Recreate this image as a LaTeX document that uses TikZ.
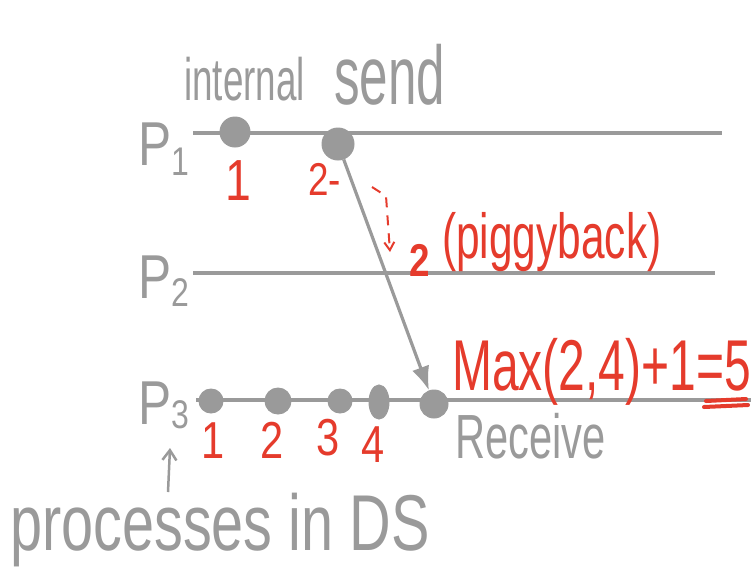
\documentclass[tikz,border=0pt]{standalone}
\usepackage{fontspec}
\setmainfont{Liberation Sans}
\newfontfamily\hand{Liberation Sans}[FakeStretch=0.8]
\usetikzlibrary{arrows.meta,shapes.geometric}
\definecolor{pgray}{HTML}{9A9A9A}
\definecolor{pred}{HTML}{E53B2C}
\newcommand{\fs}[1]{\hand\fontsize{#1}{#1}\selectfont}
\newcommand{\tallx}[2]{\scalebox{1}[#1]{#2}}
\begin{document}
\begin{tikzpicture}[x=1pt,y=-1pt,
  tl/.style={draw=pgray,line width=3.2pt},
  ev/.style={circle,fill=pgray,draw=pgray,line width=1pt,inner sep=0pt,minimum size=26pt},
  gtxt/.style={text=pgray,inner sep=0pt,anchor=base west},
  rtxt/.style={text=pred,inner sep=0pt,anchor=base},
]
\useasboundingbox (0,0) rectangle (751,571);
% process timelines
\coordinate (p1s) at (193,133); \coordinate (p1e) at (722,133);
\coordinate (p2s) at (193,273); \coordinate (p2e) at (715,273);
\coordinate (p3s) at (196,400); \coordinate (p3e) at (751,400);
\draw[tl] (p1s) -- (p1e);
\draw[tl] (p2s) -- (p2e);
\draw[tl] (p3s) -- (p3e);
% process labels
\node[gtxt,font=\fs{62}] (lp1) at (138,165) {P\raisebox{-10pt}{\fs{40}1}};
\node[gtxt,font=\fs{62}] (lp2) at (138,298) {P\raisebox{-8pt}{\fs{40}2}};
\node[gtxt,font=\fs{62}] (lp3) at (138,424) {P\raisebox{-4pt}{\fs{40}3}};
% events
\node[ev,minimum size=30pt] (e11) at (235,132) {};
\node[ev,minimum size=32pt] (e12) at (338,144) {};
\node[ev,minimum size=24pt] (e31) at (211,401) {};
\node[ev,minimum size=26pt] (e32) at (278,401) {};
\node[ev,minimum size=24pt] (e33) at (340,401) {};
\node[ev,ellipse,minimum width=20pt,minimum height=34pt] (e34) at (379,402) {};
\node[ev,minimum size=28pt] (e35) at (434,404) {};
% message
\draw[tl,-{Latex[length=24pt,width=18pt]}] (e12) -- (e35);
% top labels
\node[gtxt,font=\fs{46}] (tint) at (184,100) {\tallx{1.3}{internal}};
\node[gtxt,font=\fs{64}] (tsend) at (334,104) {\tallx{1.3}{send}};
% P1 clock values
\node[rtxt,font=\fs{58}] (c11) at (238,200) {1};
\node[rtxt,font=\fs{46},anchor=base west] (c12) at (308,195) {2-};
\coordinate (da) at (372,187);
\coordinate (db) at (386,196);
\coordinate (dc) at (390,252);
\draw[pred,line width=2pt,dashed,dash pattern=on 10pt off 8pt,-{Straight Barb[length=8pt,width=10pt]}] (da) -- (db) -- (dc);
\node[rtxt,font=\fs{46}\bfseries] (c2) at (420,276) {2};
\node[rtxt,font=\fs{53},anchor=base west] (pig) at (442,258) {\tallx{1.2}{(piggyback)}};
% P3 clock values
\node[rtxt,font=\fs{52}] (c31) at (213,458) {1};
\node[rtxt,font=\fs{52}] (c32) at (272,458) {2};
\node[rtxt,font=\fs{52}] (c33) at (328,455) {3};
\node[rtxt,font=\fs{52}] (c34) at (373,462) {4};
\node[rtxt,font=\fs{60},anchor=base west] (mx) at (452,390) {\tallx{1.2}{Max(2,4)+1=5}};
\coordinate (u1) at (706,401); \coordinate (u2) at (746,399);
\coordinate (u3) at (704,407); \coordinate (u4) at (748,405);
\draw[pred,line width=4pt,line cap=round] (u1) -- (u2) (u3) -- (u4);
\node[gtxt,font=\fs{52}] (recv) at (455,458) {\tallx{1.2}{Receive}};
% processes note
\coordinate (pa1) at (168,492); \coordinate (pa2) at (170,448);
\draw[pgray,line width=2.5pt,-{Straight Barb[length=10pt,width=14pt]}] (pa1) -- (pa2);
\node[gtxt,font=\fs{72}] (proc) at (10,550) {\tallx{1.1}{processes in DS}};
\end{tikzpicture}
\end{document}
